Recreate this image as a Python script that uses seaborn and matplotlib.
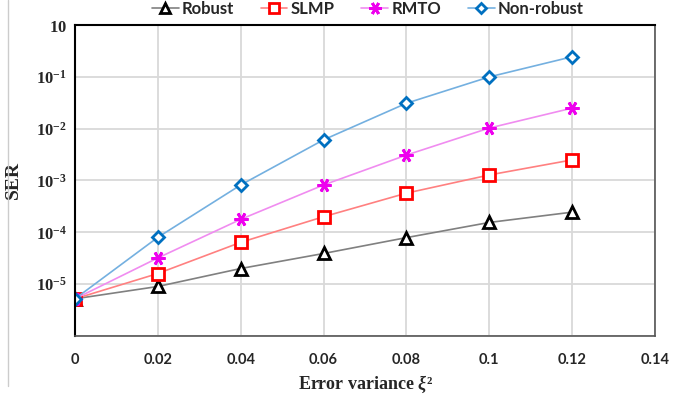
import numpy as np
import pandas as pd
import matplotlib
matplotlib.use("Agg")
import matplotlib.pyplot as plt
from matplotlib.lines import Line2D
import seaborn as sns

x_vals = [0, 0.02, 0.04, 0.06, 0.08, 0.10, 0.12]
robust = [5.2e-6, 9.0e-6, 2.0e-5, 3.9e-5, 7.9e-5, 1.55e-4, 2.45e-4]
slmp = [5.2e-6, 1.6e-5, 6.4e-5, 2.0e-4, 5.7e-4, 1.28e-3, 2.5e-3]
rmto = [5.2e-6, 3.2e-5, 1.78e-4, 8.2e-4, 3.1e-3, 1.03e-2, 2.5e-2]
nonrobust = [5.2e-6, 8.0e-5, 8.2e-4, 6.1e-3, 3.1e-2, 1.0e-1, 2.45e-1]
series_names = ["Robust", "SLMP", "RMTO", "Non-robust"]
x_ticks = [0, 0.02, 0.04, 0.06, 0.08, 0.10, 0.12, 0.14]
x_tick_labels = ["0", "0.02", "0.04", "0.06", "0.08", "0.1", "0.12", "0.14"]
y_ticks = [1e-6, 1e-5, 1e-4, 1e-3, 1e-2, 1e-1, 1e0]
y_tick_labels = ["", r"$\mathbf{10^{-5}}$", r"$\mathbf{10^{-4}}$", r"$\mathbf{10^{-3}}$",
                 r"$\mathbf{10^{-2}}$", r"$\mathbf{10^{-1}}$", r"$\mathbf{10}$"]

sns.set_theme(style="white")
plt.rcParams["mathtext.fontset"] = "custom"
plt.rcParams["mathtext.rm"] = "Liberation Serif"
plt.rcParams["mathtext.bf"] = "Liberation Serif:bold"
plt.rcParams["mathtext.it"] = "Liberation Serif:italic:bold"

df = pd.DataFrame({
    "x": x_vals * 4,
    "SER": robust + slmp + rmto + nonrobust,
    "method": sum([[n] * len(x_vals) for n in series_names], []),
})

styles = {
    "Robust": dict(line="#808080", mec="black", marker="^", ms=8),
    "SLMP": dict(line="#FF8080", mec="#FF0000", marker="s", ms=8),
    "RMTO": dict(line="#F08CF0", mec="#EE00EE", marker=(6, 2, 90), ms=10),
    "Non-robust": dict(line="#74B0E0", mec="#0070C0", marker="D", ms=6),
}

fig = plt.figure(figsize=(6.94, 3.98), dpi=100)
ax = fig.add_axes([0.108, 0.156, 0.836, 0.781])

handles = []
for name in series_names:
    st = styles[name]
    sub = df[df["method"] == name]
    sns.lineplot(data=sub, x="x", y="SER", ax=ax, color=st["line"], lw=1.2,
                 marker=st["marker"], markersize=st["ms"], markeredgecolor=st["mec"],
                 markerfacecolor="white" if name != "RMTO" else st["mec"],
                 markeredgewidth=2, legend=False)
    handles.append(Line2D([0], [0], color=st["line"], lw=1.2, marker=st["marker"],
                          markersize=st["ms"] - 1, markeredgecolor=st["mec"],
                          markerfacecolor="white" if name != "RMTO" else st["mec"],
                          markeredgewidth=2, label=name))

ax.set_yscale("log")
ax.set_xlim(0, 0.14)
ax.set_ylim(1e-6, 1)
ax.set_xticks(x_ticks)
ax.set_xticklabels(x_tick_labels, fontfamily="Lato", fontweight="bold", fontsize=10.5)
ax.set_yticks(y_ticks)
ax.set_yticklabels(y_tick_labels, fontsize=12)
ax.yaxis.set_minor_locator(matplotlib.ticker.NullLocator())
ax.tick_params(axis="x", pad=12, length=0)
ax.tick_params(axis="y", pad=6, length=0)
ax.grid(True, color="#D9D9D9", lw=1.3)
ax.set_axisbelow(True)
for side in ["left", "top"]:
    ax.spines[side].set_color("black")
    ax.spines[side].set_linewidth(1.5)
for side in ["right", "bottom"]:
    ax.spines[side].set_color("#555555")
    ax.spines[side].set_linewidth(1.2)

ax.set_ylabel("SER", fontfamily="Liberation Serif", fontweight="bold", fontsize=14, labelpad=10)
ax.set_xlabel(r"Error variance $\xi$²", fontfamily="Liberation Serif", fontweight="bold",
              fontsize=13, labelpad=5)

fig.legend(handles=handles, loc="upper center", bbox_to_anchor=(0.53, 1.035), ncol=4,
           frameon=False, prop=dict(family="Lato", weight="bold", size=12),
           handlelength=1.6, columnspacing=1.6, handletextpad=0.2)

fig.add_artist(Line2D([0.012, 0.012], [0.03, 1.0], color="#CCCCCC", lw=1))

fig.savefig("out.png", dpi=100)
